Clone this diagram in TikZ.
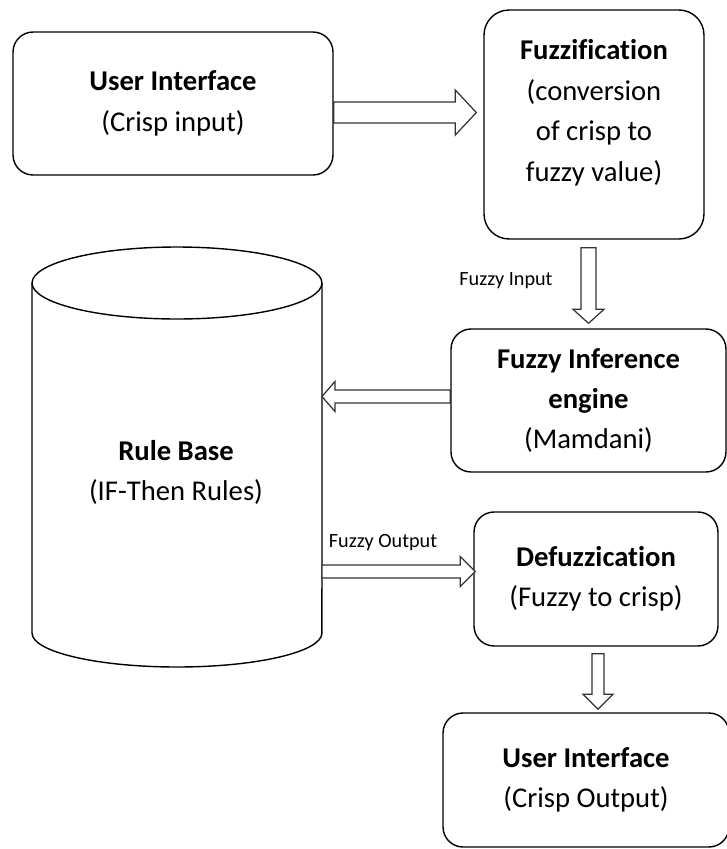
\documentclass[tikz,border=0pt]{standalone}
\usepackage{fontspec}
\setmainfont{Carlito}[Ligatures=CommonOff]
\usetikzlibrary{calc}

% outlined block arrow: start, tip, shaft half width, head half width, head length
\newcommand{\fatarrow}[5]{%
  \coordinate (fa-base) at ($(#2)!#5!(#1)$);
  \draw[fat] ($(#1)!#3!-90:(#2)$) -- ($(fa-base)!#3!-90:(#2)$) -- ($(fa-base)!#4!-90:(#2)$) -- (#2)
    -- ($(fa-base)!#4!90:(#2)$) -- ($(fa-base)!#3!90:(#2)$) -- ($(#1)!#3!90:(#2)$) -- cycle;
}

\begin{document}
\begin{tikzpicture}[x=0.02cm,y=-0.02cm,line width=0.8pt,
  box/.style={draw,rounded corners=4mm,align=center,font=\fontsize{16.3}{23}\selectfont},
  lbl/.style={font=\fontsize{11.5}{13}\selectfont},
  fat/.style={draw=black!80,fill=white,line width=0.7pt,line join=miter}]
\useasboundingbox (0,0) rectangle (727,849);

% boxes
\node[box,minimum width=64mm,minimum height=28.6mm] (ui) at (173,103.5) {\textbf{User Interface}\\(Crisp input)};
\node[box,rounded corners=5mm,minimum width=44mm,minimum height=45.8mm] (fuzz) at (594,124.5) {\textbf{Fuzzification}\\(conversion\\of crisp to\\fuzzy value)\rule[-16pt]{0pt}{0pt}};
\node[box,minimum width=55mm,minimum height=28.6mm] (infer) at (588.5,400.5) {\textbf{Fuzzy Inference}\\\textbf{engine}\\(Mamdani)};
\node[box,minimum width=48.8mm,minimum height=26.8mm] (defuzz) at (596,579) {\textbf{Defuzzication}\\(Fuzzy to crisp)};
\node[box,minimum width=57.2mm,minimum height=26.8mm] (uiout) at (586,780) {\textbf{User Interface}\\(Crisp Output)};

% rule base cylinder
\draw (32,283) -- (32,633) arc[start angle=180,end angle=360,x radius=29mm,y radius=6.8mm] -- (322,283);
\draw (177,283) ellipse [x radius=29mm,y radius=7.2mm];
\coordinate (rbE) at (322,458);
\node[align=center,font=\fontsize{16.3}{23}\selectfont] (rb) at (176,472.5) {\textbf{Rule Base}\\(IF-Then Rules)};

% arrows
\coordinate (a1s) at ($(ui.east)+(0,9)$);
\coordinate (a1e) at ($(fuzz.west |- a1s)+(-7,0)$);
\fatarrow{a1s}{a1e}{2.1mm}{4.5mm}{4.2mm}
\coordinate (a2s) at ($(infer.north |- fuzz.south)+(0,8)$);
\coordinate (a2e) at ($(infer.north)+(0,-5)$);
\fatarrow{a2s}{a2e}{1.5mm}{3.1mm}{2.8mm}
\coordinate (a3s) at ($(infer.west)+(0,-4)$);
\coordinate (a3e) at (rbE |- a3s);
\fatarrow{a3s}{a3e}{1.3mm}{3mm}{2.6mm}
\coordinate (a4e) at ($(defuzz.west)+(2,-7.5)$);
\coordinate (a4s) at (rbE |- a4e);
\fatarrow{a4s}{a4e}{1.3mm}{3mm}{3mm}
\coordinate (a5s) at ($(defuzz.south)+(2,7)$);
\coordinate (a5e) at ($(a5s |- uiout.north)+(0,-3)$);
\fatarrow{a5s}{a5e}{1.2mm}{3mm}{3mm}

% arrow labels
\node[lbl] (fin) at (506,281) {Fuzzy Input};
\node[lbl] (fout) at (383,543) {Fuzzy Output};
\end{tikzpicture}
\end{document}
